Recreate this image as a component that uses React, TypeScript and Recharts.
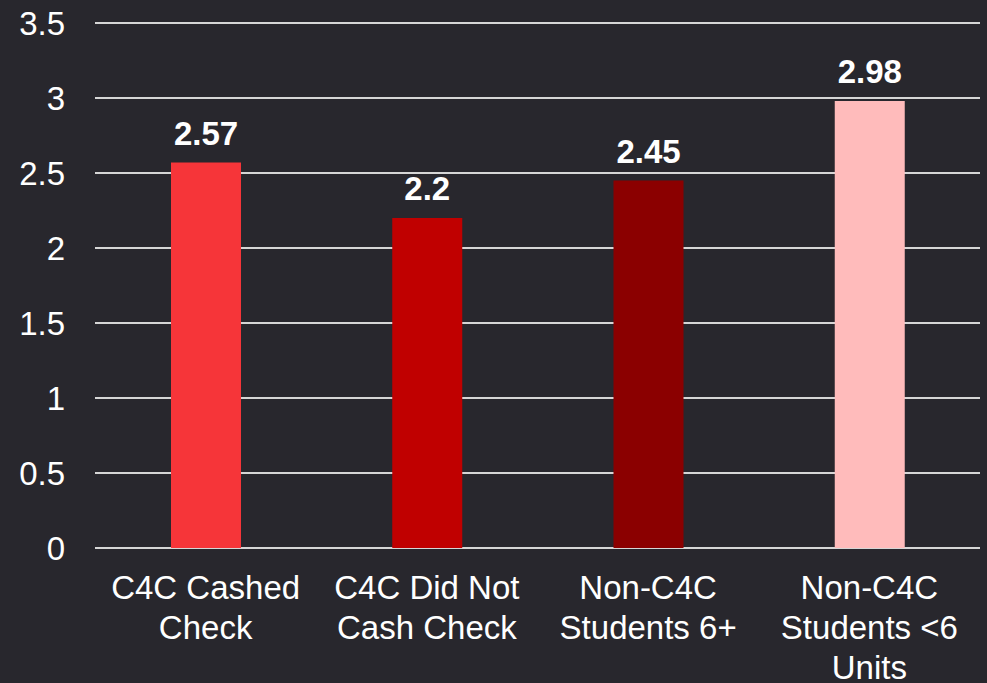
import { Bar, BarChart, CartesianGrid, Cell, LabelList, XAxis, YAxis } from 'recharts';

const categories = [
  'C4C Cashed Check',
  'C4C Did Not Cash Check',
  'Non-C4C Students 6+',
  'Non-C4C Students <6 Units'
];
const scores = [2.57, 2.2, 2.45, 2.98];
const barColors = ['#F63539', '#C00000', '#8B0000', '#FFBBBB'];
const yTicks = [0, 0.5, 1, 1.5, 2, 2.5, 3, 3.5];

const chartData = categories.map((name, i) => ({ name, score: scores[i] }));

const FONT = '"Liberation Sans", Arial, sans-serif';
const TICK_SIZE = 33;
const WRAP_WIDTH = 221;

// word-wrap a label to the category band width
const wrapLabel = (label: string): string[] => {
  const ctx = document.createElement('canvas').getContext('2d');
  if (!ctx) return [label];
  ctx.font = `${TICK_SIZE}px ${FONT}`;
  const lines: string[] = [];
  let line = '';
  label.split(' ').forEach((word) => {
    const next = line ? `${line} ${word}` : word;
    if (line && ctx.measureText(next).width > WRAP_WIDTH) {
      lines.push(line);
      line = word;
    } else {
      line = next;
    }
  });
  if (line) lines.push(line);
  return lines;
};

const CategoryTick = (props: any) => {
  const { x, y, payload } = props;
  const lines = wrapLabel(String(payload.value));
  return (
    <text
      x={x}
      y={y}
      textAnchor="middle"
      fill="#FFFFFF"
      fontSize={TICK_SIZE}
      fontFamily={FONT}
    >
      {lines.map((line, i) => (
        <tspan key={i} x={x} dy={i === 0 ? '0.71em' : '1.2em'}>
          {line}
        </tspan>
      ))}
    </text>
  );
};

export default function App() {
  return (
    <div
      style={{
        position: 'absolute',
        left: 0,
        top: 0,
        width: 987,
        height: 683,
        background: '#28272D',
        fontFamily: FONT
      }}
    >
      <BarChart
        width={987}
        height={683}
        data={chartData}
        margin={{ top: 23, right: 7, bottom: 0, left: 0 }}
      >
        <CartesianGrid vertical={false} stroke="#D6D6D6" strokeWidth={2} />
        <XAxis
          dataKey="name"
          height={135}
          axisLine={false}
          tickLine={false}
          tickSize={0}
          tickMargin={28}
          interval={0}
          tick={<CategoryTick />}
        />
        <YAxis
          width={95}
          domain={[0, 3.5]}
          ticks={yTicks}
          axisLine={false}
          tickLine={false}
          tickSize={0}
          tickMargin={30}
          tick={{ fill: '#FFFFFF', fontSize: TICK_SIZE, fontFamily: FONT }}
        />
        <Bar dataKey="score" barSize={70} isAnimationActive={false}>
          {chartData.map((d, i) => (
            <Cell key={d.name} fill={barColors[i]} />
          ))}
          <LabelList
            dataKey="score"
            position="top"
            offset={18}
            fill="#FFFFFF"
            style={{ fontSize: TICK_SIZE, fontWeight: 'bold', fontFamily: FONT }}
          />
        </Bar>
      </BarChart>
    </div>
  );
}
